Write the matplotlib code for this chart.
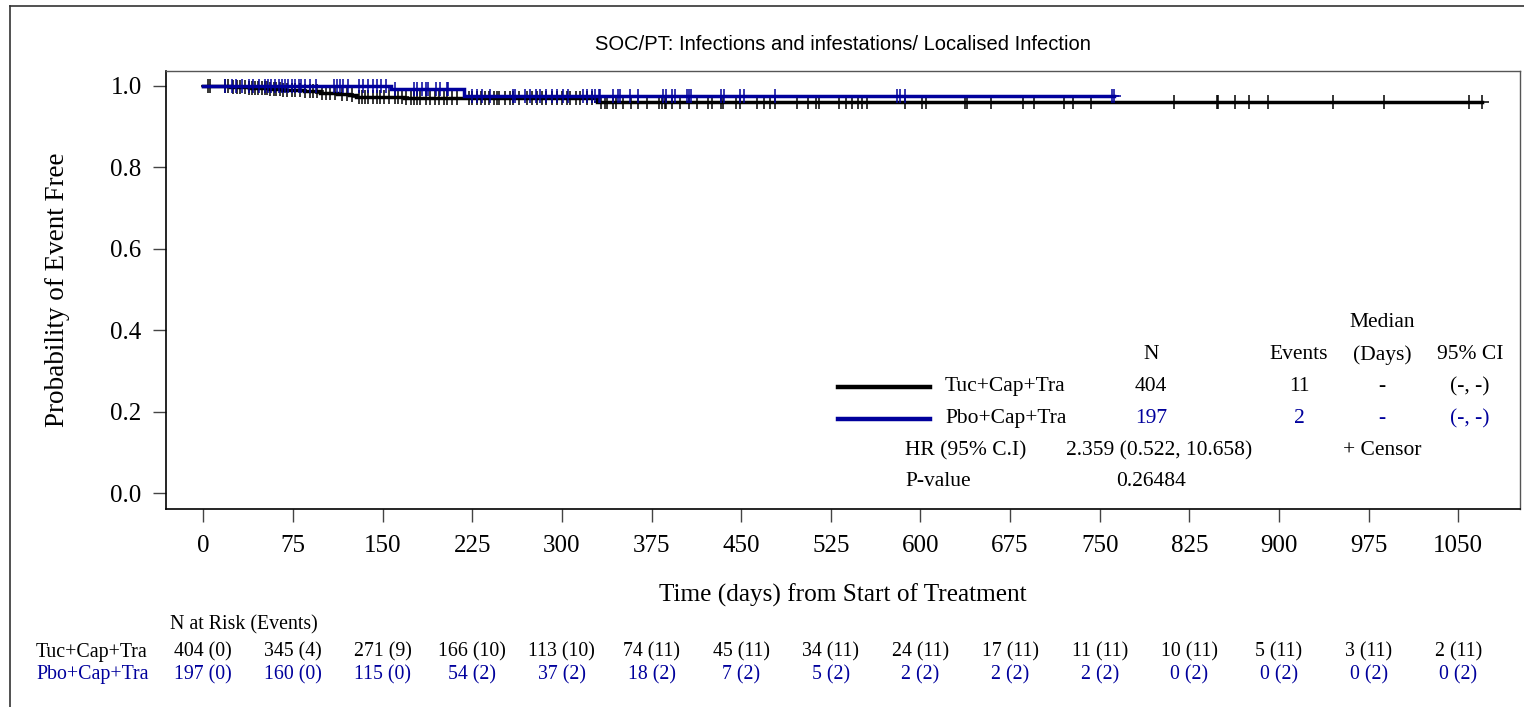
import numpy as np
import matplotlib
matplotlib.use("Agg")
import matplotlib.pyplot as plt
from matplotlib.lines import Line2D
import matplotlib.transforms as mtransforms

# ---------------- data ----------------
title = "SOC/PT: Infections and infestations/ Localised Infection"
arm_names = ["Tuc+Cap+Tra", "Pbo+Cap+Tra"]

tuc_event_days = [22, 38, 55, 66, 84, 98, 112, 122, 128, 168, 329]
tuc_surv_after = [0.9975, 0.995, 0.9925, 0.990, 0.9868, 0.9836, 0.9804,
                  0.9772, 0.9740, 0.9697, 0.9600]
tuc_censor_days = [4, 6, 18, 21, 25, 28, 31, 35, 38, 41, 43, 46, 49, 52, 53,
                   56, 59, 61, 64, 67, 70, 74, 77, 81, 85, 89, 92, 95, 99, 103,
                   106, 110, 116, 120, 124, 130, 133, 135, 138, 142, 145, 148,
                   151, 155, 160, 163, 166, 170, 174, 176, 179, 181, 186, 190,
                   194, 197, 201, 204, 208, 212, 222, 225, 229, 232, 236, 239,
                   243, 246, 247, 252, 257, 259, 264, 271, 275, 279, 283, 287,
                   292, 296, 300, 304, 307, 312, 315, 321, 325, 333, 336, 338,
                   343, 345, 351, 358, 364, 371, 381, 384, 386, 387, 392, 399,
                   406, 413, 422, 426, 433, 435, 446, 449, 463, 469, 474, 478,
                   497, 506, 513, 515, 532, 538, 543, 548, 551, 555, 587, 601,
                   605, 637, 639, 659, 686, 695, 720, 728, 743, 812, 848, 849,
                   863, 875, 891, 945, 988, 1059, 1070]

pbo_event_days = [157, 218]
pbo_surv_after = [0.9915, 0.9750]
pbo_censor_days = [18, 24, 27, 32, 38, 42, 47, 52, 54, 57, 60, 63, 66, 68, 71,
                   74, 77, 80, 82, 85, 89, 94, 109, 112, 114, 117, 121, 130,
                   134, 138, 142, 145, 149, 153, 160, 176, 179, 183, 186, 188,
                   195, 198, 204, 205, 225, 229, 233, 240, 259, 261, 269, 273,
                   278, 282, 287, 292, 296, 301, 305, 318, 321, 325, 328, 331,
                   332, 343, 347, 349, 357, 364, 385, 387, 392, 395, 405, 406,
                   408, 433, 436, 449, 452, 478, 580, 583, 587, 760, 762]

x_ticks = [0, 75, 150, 225, 300, 375, 450, 525, 600, 675, 750, 825, 900, 975, 1050]
y_ticks = [0.0, 0.2, 0.4, 0.6, 0.8, 1.0]

tuc_at_risk = ["404 (0)", "345 (4)", "271 (9)", "166 (10)", "113 (10)", "74 (11)",
               "45 (11)", "34 (11)", "24 (11)", "17 (11)", "11 (11)", "10 (11)",
               "5 (11)", "3 (11)", "2 (11)"]
pbo_at_risk = ["197 (0)", "160 (0)", "115 (0)", "54 (2)", "37 (2)", "18 (2)",
               "7 (2)", "5 (2)", "2 (2)", "2 (2)", "2 (2)", "0 (2)", "0 (2)",
               "0 (2)", "0 (2)"]

stat_n = ["404", "197"]
stat_events = ["11", "2"]
stat_median = ["-", "-"]
stat_ci = ["(-, -)", "(-, -)"]
hr_text = "2.359 (0.522, 10.658)"
p_text = "0.26484"

# ---------------- style ----------------
BLACK = "#000000"
BLUE = "#00009C"
SERIF = ["Liberation Serif", "DejaVu Serif"]
plt.rcParams["font.family"] = SERIF

fig = plt.figure(figsize=(15.24, 7.07), dpi=100)
W, H = 1524.0, 707.0
ax = fig.add_axes([166 / W, 1 - 509 / H, (1520 - 166) / W, (509 - 71) / H])

def surv_at(t, ev_days, ev_surv):
    idx = np.searchsorted(np.asarray(ev_days), t, side="right")
    levels = np.concatenate([[1.0], np.asarray(ev_surv)])
    return levels[idx]

def draw_arm(ev_days, ev_surv, cens_days, color, zorder):
    end = max(cens_days)
    xs = np.concatenate([[0.0], ev_days, [end]])
    ys = np.concatenate([[1.0], ev_surv, [ev_surv[-1]]])
    ax.step(xs, ys, where="post", color=color, lw=2.5, zorder=zorder,
            solid_joinstyle="miter")
    cs = np.asarray(cens_days, dtype=float)
    ax.plot(cs, surv_at(cs, ev_days, ev_surv), ls="none", marker="+",
            ms=10.5, mew=1.1, color=color, zorder=zorder + 0.5)

draw_arm(tuc_event_days, tuc_surv_after, tuc_censor_days, BLACK, 3)
draw_arm(pbo_event_days, pbo_surv_after, pbo_censor_days, BLUE, 4)

ax.set_xlim(-31.2, 1101.6)
ax.set_ylim(-0.0386, 1.0368)
ax.set_xticks(x_ticks)
ax.set_xticklabels([str(v) for v in x_ticks])
ax.set_yticks(y_ticks)
ax.set_yticklabels([f"{v:.1f}" for v in y_ticks])
ax.tick_params(axis="both", direction="out", length=9.5, width=1.0,
               color="#444444", labelsize=18)
ax.tick_params(axis="x", pad=9)
ax.tick_params(axis="y", pad=8)
for s in ["left", "bottom"]:
    ax.spines[s].set_color("#000000")
    ax.spines[s].set_linewidth(1.2)
for s in ["top", "right"]:
    ax.spines[s].set_color("#555555")
    ax.spines[s].set_linewidth(1.0)

fig.text(57 / W, 1 - 290 / H, "Probability of Event Free", rotation=90,
         ha="center", va="center", fontsize=19.5)
fig.text(843 / W, 1 - 45 / H, title, ha="center", va="center",
         fontsize=14.5, family=["Liberation Sans", "DejaVu Sans"])
fig.text(843 / W, 1 - 595 / H, "Time (days) from Start of Treatment",
         ha="center", va="center", fontsize=18.2)

# ---------------- legend / stats block ----------------
def px2day(px):
    return (px - 203.3) / 1.1952

def py2s(py):
    return (493.3 - py) / 407.3

fs = 15.5
col_n, col_ev, col_med, col_ci = px2day(1151), px2day(1299), px2day(1382), px2day(1470)
y_med, y_hdr = py2s(323), py2s(355)
row_y = [py2s(387), py2s(419)]
y_hr, y_p = py2s(451), py2s(482)

ax.text(col_med, y_med, "Median", ha="center", va="center", fontsize=fs)
for xv, txt in [(col_n, "N"), (col_ev, "Events"), (col_med, "(Days)"), (col_ci, "95% CI")]:
    ax.text(xv, y_hdr, txt, ha="center", va="center", fontsize=fs)

colors = [BLACK, BLUE]
for i in range(2):
    yy = row_y[i]
    ax.add_line(Line2D([px2day(838), px2day(930)], [yy, yy], color=colors[i], lw=3.2))
    ax.text(px2day(945), yy, arm_names[i], ha="left", va="center", fontsize=fs, color=BLACK)
    ax.text(col_n, yy, stat_n[i], ha="center", va="center", fontsize=fs, color=colors[i])
    ax.text(col_ev, yy, stat_events[i], ha="center", va="center", fontsize=fs, color=colors[i])
    ax.text(col_med, yy, stat_median[i], ha="center", va="center", fontsize=fs, color=colors[i])
    ax.text(col_ci, yy, stat_ci[i], ha="center", va="center", fontsize=fs, color=colors[i])

ax.text(px2day(905), y_hr, "HR (95% C.I)", ha="left", va="center", fontsize=fs)
ax.text(px2day(1252), y_hr, hr_text, ha="right", va="center", fontsize=fs)
ax.text(col_med, y_hr, "+ Censor", ha="center", va="center", fontsize=fs)
ax.text(px2day(905), y_p, "P-value", ha="left", va="center", fontsize=fs)
ax.text(col_n, y_p, p_text, ha="center", va="center", fontsize=fs)

# ---------------- risk table ----------------
trans = mtransforms.blended_transform_factory(ax.transData, fig.transFigure)
rfs = 14.3
fig.text(170 / W, 1 - 625 / H, "N at Risk (Events)", ha="left", va="center", fontsize=rfs)
fig.text(36 / W, 1 - 652 / H, arm_names[0], ha="left", va="center", fontsize=rfs, color=BLACK)
fig.text(36 / W, 1 - 675 / H, arm_names[1], ha="left", va="center", fontsize=rfs, color=BLUE)
for xv, a, b in zip(x_ticks, tuc_at_risk, pbo_at_risk):
    ax.text(xv, 1 - 652 / H, a, transform=trans, ha="center", va="center",
            fontsize=rfs, color=BLACK, clip_on=False)
    ax.text(xv, 1 - 675 / H, b, transform=trans, ha="center", va="center",
            fontsize=rfs, color=BLUE, clip_on=False)

# outer frame (partly cut at right/bottom)
fig.add_artist(Line2D([10 / W, 1.0], [1 - 6 / H, 1 - 6 / H], transform=fig.transFigure,
                      color="#333333", lw=1.2))
fig.add_artist(Line2D([10 / W, 10 / W], [1 - 6 / H, 0.0], transform=fig.transFigure,
                      color="#333333", lw=1.2))

fig.savefig("out.png", dpi=100, facecolor="white")
